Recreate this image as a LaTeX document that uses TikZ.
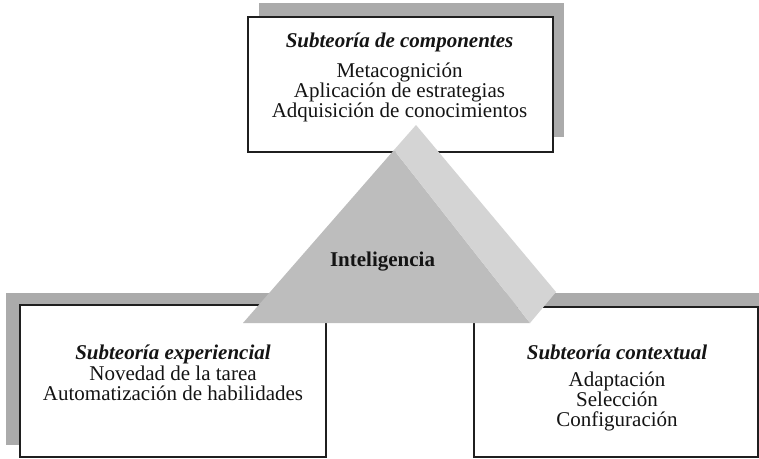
\documentclass[tikz,border=0pt]{standalone}
\usepackage{fontspec}
\setmainfont{Liberation Serif}
\begin{document}
\begin{tikzpicture}[x=1pt,y=-1pt,
  shadowbox/.style={fill=black!33, draw=none},
  framebox/.style={draw=black!88, line width=2pt, fill=white, inner sep=0pt, anchor=north west},
  txt/.style={font=\fontsize{21}{21}\selectfont, anchor=base, inner sep=0pt, text=black!92},
  ttl/.style={txt, font=\fontsize{21}{21}\selectfont\bfseries\itshape},
  frontface/.style={fill=black!26},
  sideface/.style={fill=black!17},
]
\useasboundingbox (0,0) rectangle (759,458);
% shadows
\fill[shadowbox] (259,3) rectangle (564,137);
\fill[shadowbox] (6,293) rectangle (312,445);
\fill[shadowbox] (485,293) rectangle (759,443);
% boxes
\node[framebox, minimum width=305pt, minimum height=135pt] (comp) at (247,16) {};
\node[framebox, minimum width=306pt, minimum height=152pt] (exp) at (19,304) {};
\node[framebox, minimum width=284pt, minimum height=150pt] (ctx) at (473,306) {};
% pyramid
\coordinate (A) at (416,125);
\coordinate (F) at (394,150);
\coordinate (L) at (243,323);
\coordinate (B1) at (530,323);
\coordinate (B2) at (556,292);
\fill[frontface] (F) -- (L) -- (B1) -- cycle;
\fill[sideface] (A) -- (F) -- (B1) -- (B2) -- cycle;
\node[txt, font=\fontsize{21}{21}\selectfont\bfseries] (intel) at (382.5,266) {Inteligencia};
% top box text
\node[ttl] (c0) at (399.5,47) {Subteoría de componentes};
\node[txt] (c1) at (399.5,77) {Metacognición};
\node[txt] (c2) at (399.5,97) {Aplicación de estrategias};
\node[txt] (c3) at (399.5,117) {Adquisición de conocimientos};
% left box text
\node[ttl] (e0) at (173,359) {Subteoría experiencial};
\node[txt] (e1) at (173,380) {Novedad de la tarea};
\node[txt] (e2) at (173,400) {Automatización de habilidades};
% right box text
\node[ttl] (x0) at (617,359) {Subteoría contextual};
\node[txt] (x1) at (617,386) {Adaptación};
\node[txt] (x2) at (617,406) {Selección};
\node[txt] (x3) at (617,426) {Configuración};
\end{tikzpicture}
\end{document}
